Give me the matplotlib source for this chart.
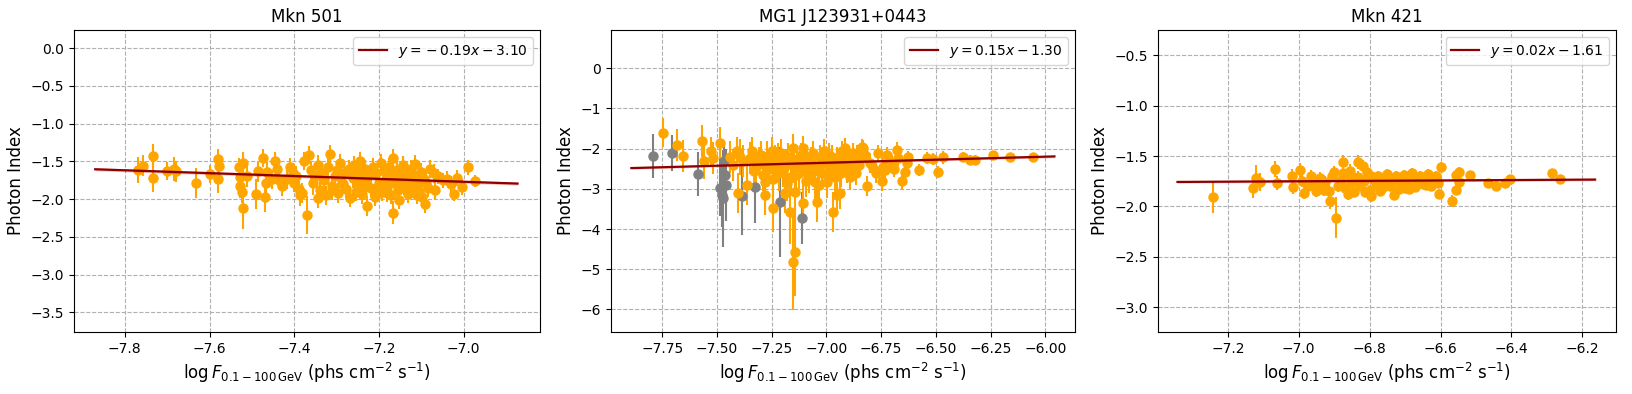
import numpy as np
import matplotlib
matplotlib.use("Agg")
import matplotlib.pyplot as plt

# ---------------- data ----------------
titles = ["Mkn 501", "MG1 J123931+0443", "Mkn 421"]
slopes = [-0.19, 0.15, 0.02]
intercepts = [-3.10, -1.30, -1.61]
xlims = [(-7.92, -6.82), (-7.984, -5.864), (-7.397, -6.105)]
ylims = [(-3.76, 0.24), (-6.56, 0.95), (-3.245, -0.25)]
band_half = [0.02, 0.03, 0.012]

# Mkn 501 (x, index, err)
mkn501_x = [-7.770, -7.756, -7.734, -7.734, -7.700, -7.685, -7.680, -7.633, -7.600, -7.580,
            -7.577, -7.581, -7.531, -7.520, -7.528, -7.529, -7.524, -7.521, -7.512, -7.490,
            -7.486, -7.474, -7.469, -7.466, -7.465, -7.453, -7.445, -7.441, -7.437, -7.418,
            -7.410, -7.404, -7.390, -7.386, -7.378, -7.370, -7.366, -7.360, -7.355, -7.350,
            -7.345, -7.340, -7.335, -7.330, -7.325, -7.320, -7.315, -7.310, -7.305, -7.300,
            -7.298, -7.292, -7.288, -7.282, -7.278, -7.272, -7.268, -7.262, -7.258, -7.252,
            -7.248, -7.244, -7.240, -7.236, -7.232, -7.229, -7.225, -7.220, -7.215, -7.210,
            -7.206, -7.200, -7.196, -7.192, -7.188, -7.184, -7.180, -7.176, -7.172, -7.168,
            -7.166, -7.166, -7.162, -7.158, -7.155, -7.152, -7.148, -7.144, -7.140, -7.136,
            -7.132, -7.128, -7.124, -7.120, -7.116, -7.114, -7.110, -7.106, -7.102, -7.099,
            -7.095, -7.091, -7.085, -7.080, -7.071, -7.067, -7.060, -7.050, -7.040, -7.030,
            -7.022, -7.015, -7.003, -6.989, -6.973, -7.430, -7.400, -7.395, -7.382, -7.310,
            -7.285, -7.255, -7.230, -7.205, -7.180, -7.150, -7.130, -7.105, -7.090, -7.345]
mkn501_y = [-1.61, -1.56, -1.43, -1.72, -1.63, -1.60, -1.63, -1.79, -1.67, -1.47,
            -1.56, -1.74, -1.57, -1.52, -1.71, -1.83, -1.90, -2.12, -1.70, -1.93,
            -1.63, -1.46, -1.97, -1.79, -1.64, -1.74, -1.50, -1.60, -1.75, -1.73,
            -1.58, -1.66, -1.86, -1.95, -1.49, -2.21, -1.42, -1.62, -1.79, -1.70,
            -1.55, -1.88, -1.66, -1.75, -1.95, -1.58, -1.40, -1.83, -1.70, -1.62,
            -1.92, -1.52, -1.78, -1.66, -1.87, -1.60, -1.98, -1.72, -1.55, -1.83,
            -1.65, -1.50, -1.93, -1.76, -1.60, -2.09, -1.70, -1.85, -1.57, -1.97,
            -1.66, -1.78, -1.52, -1.90, -1.63, -1.74, -1.84, -1.58, -1.95, -1.68,
            -1.46, -2.18, -1.79, -1.62, -1.88, -2.01, -1.72, -1.55, -1.83, -1.66,
            -1.93, -1.76, -1.60, -1.86, -1.70, -1.54, -1.95, -1.79, -1.64, -1.97,
            -1.73, -2.07, -1.85, -1.60, -1.66, -1.88, -1.70, -1.75, -1.73, -1.80,
            -1.93, -1.72, -1.84, -1.58, -1.76, -1.82, -1.78, -1.70, -1.92, -1.88,
            -1.80, -1.90, -1.82, -1.89, -1.92, -1.81, -1.86, -1.90, -1.78, -1.98]
mkn501_e = [0.17, 0.14, 0.16, 0.18, 0.12, 0.16, 0.14, 0.20, 0.12, 0.13,
            0.15, 0.18, 0.12, 0.15, 0.13, 0.15, 0.15, 0.28, 0.14, 0.20,
            0.14, 0.12, 0.20, 0.14, 0.13, 0.12, 0.12, 0.13, 0.12, 0.13,
            0.12, 0.14, 0.15, 0.14, 0.12, 0.25, 0.12, 0.13, 0.15, 0.12,
            0.13, 0.15, 0.12, 0.14, 0.13, 0.12, 0.12, 0.14, 0.13, 0.12,
            0.13, 0.12, 0.13, 0.12, 0.12, 0.12, 0.12, 0.13, 0.12, 0.12,
            0.12, 0.12, 0.13, 0.12, 0.12, 0.13, 0.12, 0.12, 0.12, 0.12,
            0.12, 0.12, 0.12, 0.12, 0.12, 0.12, 0.12, 0.12, 0.12, 0.12,
            0.12, 0.15, 0.12, 0.12, 0.12, 0.12, 0.12, 0.12, 0.12, 0.12,
            0.12, 0.12, 0.12, 0.12, 0.12, 0.12, 0.12, 0.12, 0.12, 0.12,
            0.12, 0.12, 0.12, 0.12, 0.12, 0.12, 0.10, 0.10, 0.10, 0.10,
            0.10, 0.10, 0.10, 0.10, 0.08, 0.14, 0.13, 0.14, 0.13, 0.13,
            0.12, 0.12, 0.12, 0.12, 0.12, 0.12, 0.12, 0.12, 0.12, 0.14]

# MG1 J123931+0443 (orange)
mg1_x = [-7.748, -7.681, -7.654, -7.567, -7.560, -7.529, -7.517, -7.486, -7.440, -7.426,
         -7.410, -7.395, -7.403, -7.380, -7.364, -7.349, -7.340, -7.320, -7.300, -7.281,
         -7.281, -7.273, -7.260, -7.250, -7.243, -7.235, -7.227, -7.215, -7.205, -7.190,
         -7.185, -7.175, -7.167, -7.160, -7.154, -7.152, -7.148, -7.144, -7.144, -7.135,
         -7.125, -7.115, -7.106, -7.106, -7.098, -7.090, -7.080, -7.070, -7.060, -7.052,
         -7.045, -7.040, -7.030, -7.020, -7.010, -7.000, -6.999, -6.990, -6.980, -6.969,
         -6.961, -6.953, -6.950, -6.938, -6.930, -6.915, -6.910, -6.900, -6.893, -6.880,
         -6.870, -6.860, -6.850, -6.839, -6.832, -6.824, -6.813, -6.786, -6.763, -6.748,
         -6.733, -6.725, -6.676, -6.672, -6.656, -6.641, -6.633, -6.626, -6.576, -6.542,
         -6.512, -6.489, -6.469, -6.378, -6.344, -6.321, -6.238, -6.162, -6.058,
         -7.330, -7.310, -7.290, -7.265, -7.245, -7.222, -7.198, -7.178, -7.158, -7.138,
         -7.118, -7.095, -7.075, -7.055, -7.035, -7.015, -6.995, -6.975, -6.955, -6.935,
         -6.920, -6.905, -6.885, -6.865, -6.845, -6.800, -6.775, -6.740, -6.700, -6.690]
mg1_y = [-1.60, -1.91, -2.18, -1.81, -2.30, -2.07, -2.24, -1.87, -2.20, -2.41,
         -2.05, -2.20, -3.11, -2.30, -2.90, -2.24, -2.05, -2.45, -2.15, -2.82,
         -3.15, -2.20, -2.50, -2.05, -3.48, -2.30, -2.36, -2.60, -2.10, -3.11,
         -2.40, -2.20, -3.57, -2.70, -4.81, -1.99, -2.45, -4.56, -3.07, -2.25,
         -2.60, -2.35, -1.99, -3.36, -2.50, -2.20, -2.70, -2.30, -2.10, -2.82,
         -3.32, -2.45, -2.20, -2.60, -2.05, -2.35, -2.82, -2.15, -2.50, -3.57,
         -2.70, -3.15, -2.25, -3.11, -2.05, -1.99, -2.40, -2.20, -2.70, -2.10,
         -2.30, -2.15, -2.40, -1.97, -1.99, -2.16, -2.93, -2.49, -2.11, -2.80,
         -2.53, -2.17, -2.03, -2.24, -2.80, -2.57, -2.36, -2.20, -2.53, -2.24,
         -2.26, -2.59, -2.22, -2.20, -2.28, -2.28, -2.17, -2.22, -2.20,
         -2.55, -2.30, -2.65, -2.40, -2.75, -2.15, -2.55, -2.85, -2.30, -2.65,
         -2.15, -2.80, -2.40, -2.55, -2.90, -2.35, -2.60, -2.20, -2.45, -2.60,
         -2.30, -2.55, -2.45, -2.60, -2.25, -2.35, -2.60, -2.45, -2.35, -2.50]
mg1_e = [0.35, 0.40, 0.40, 0.40, 0.45, 0.35, 0.40, 0.40, 0.40, 0.40,
         0.35, 0.45, 0.50, 0.40, 0.50, 0.40, 0.35, 0.40, 0.35, 0.50,
         0.50, 0.40, 0.40, 0.35, 0.60, 0.40, 0.40, 0.45, 0.35, 0.50,
         0.40, 0.35, 0.80, 0.45, 1.20, 0.35, 0.40, 1.10, 0.50, 0.35,
         0.40, 0.35, 0.30, 0.50, 0.40, 0.30, 0.40, 0.35, 0.30, 0.45,
         0.50, 0.35, 0.30, 0.35, 0.30, 0.30, 0.40, 0.30, 0.30, 0.50,
         0.35, 0.45, 0.30, 0.40, 0.25, 0.25, 0.30, 0.25, 0.30, 0.25,
         0.25, 0.25, 0.25, 0.20, 0.20, 0.20, 0.25, 0.20, 0.20, 0.25,
         0.20, 0.20, 0.20, 0.20, 0.20, 0.20, 0.20, 0.15, 0.15, 0.15,
         0.15, 0.15, 0.15, 0.12, 0.12, 0.12, 0.12, 0.10, 0.10,
         0.40, 0.35, 0.40, 0.35, 0.45, 0.30, 0.40, 0.45, 0.35, 0.40,
         0.30, 0.40, 0.35, 0.35, 0.40, 0.30, 0.35, 0.30, 0.30, 0.35,
         0.30, 0.30, 0.30, 0.30, 0.25, 0.25, 0.25, 0.25, 0.20, 0.20]

# MG1 J123931+0443 (grey points)
mg1_grey_x = [-7.791, -7.707, -7.586, -7.486, -7.479, -7.471, -7.464, -7.468, -7.460,
              -7.387, -7.326, -7.212, -7.110]
mg1_grey_y = [-2.18, -2.10, -2.63, -2.97, -3.15, -3.24, -2.65, -2.32, -2.90,
              -3.19, -2.95, -3.33, -3.73]
mg1_grey_e = [0.54, 0.45, 0.55, 0.70, 0.80, 1.20, 0.60, 0.50, 0.90,
              0.95, 0.90, 1.37, 0.64]

# Mkn 421
mkn421_x = [-7.242, -7.130, -7.121, -7.109, -7.066, -7.062, -7.018, -7.016, -6.996, -6.984,
            -6.944, -6.914, -6.912, -6.895, -6.876, -6.876, -6.834, -6.820, -6.796, -6.730,
            -6.603, -6.598, -6.567, -6.556, -6.555, -6.547, -6.547, -6.516, -6.467, -6.443,
            -6.417, -6.405, -6.286, -6.264,
            -6.990, -6.975, -6.965, -6.955, -6.940, -6.930, -6.925, -6.905, -6.890, -6.880,
            -6.870, -6.860, -6.852, -6.845, -6.838, -6.828, -6.815, -6.808, -6.800, -6.790,
            -6.782, -6.775, -6.765, -6.758, -6.750, -6.742, -6.735, -6.725, -6.718, -6.710,
            -6.702, -6.695, -6.688, -6.680, -6.672, -6.665, -6.658, -6.650, -6.642, -6.635,
            -6.628, -6.620, -6.612, -6.606, -6.950, -6.900, -6.862, -6.832, -6.812, -6.770,
            -6.745, -6.715, -6.690, -6.662, -6.640, -6.618, -6.856, -6.796, -6.752, -6.700]
mkn421_y = [-1.91, -1.82, -1.72, -1.76, -1.63, -1.77, -1.70, -1.81, -1.64, -1.87,
            -1.82, -1.85, -1.95, -2.11, -1.56, -1.67, -1.56, -1.60, -1.90, -1.89,
            -1.88, -1.61, -1.95, -1.69, -1.84, -1.66, -1.76, -1.69, -1.77, -1.80,
            -1.77, -1.73, -1.67, -1.73,
            -1.75, -1.80, -1.70, -1.78, -1.72, -1.84, -1.76, -1.70, -1.80, -1.74,
            -1.82, -1.68, -1.77, -1.86, -1.72, -1.80, -1.75, -1.66, -1.84, -1.73,
            -1.78, -1.70, -1.82, -1.76, -1.68, -1.80, -1.74, -1.70, -1.83, -1.76,
            -1.69, -1.79, -1.72, -1.67, -1.81, -1.75, -1.70, -1.78, -1.72, -1.68,
            -1.80, -1.74, -1.70, -1.77, -1.85, -1.66, -1.88, -1.71, -1.86, -1.85,
            -1.74, -1.81, -1.83, -1.72, -1.79, -1.73, -1.65, -1.70, -1.77, -1.82]
mkn421_e = [0.15, 0.10, 0.13, 0.09, 0.08, 0.07, 0.07, 0.07, 0.07, 0.06,
            0.06, 0.06, 0.08, 0.20, 0.07, 0.07, 0.07, 0.06, 0.06, 0.05,
            0.05, 0.05, 0.06, 0.05, 0.05, 0.05, 0.05, 0.04, 0.04, 0.04,
            0.04, 0.04, 0.04, 0.04,
            0.06, 0.06, 0.06, 0.06, 0.06, 0.06, 0.06, 0.06, 0.06, 0.06,
            0.06, 0.06, 0.05, 0.05, 0.05, 0.05, 0.05, 0.05, 0.05, 0.05,
            0.05, 0.05, 0.05, 0.05, 0.05, 0.05, 0.05, 0.05, 0.05, 0.05,
            0.05, 0.05, 0.05, 0.05, 0.05, 0.05, 0.05, 0.05, 0.05, 0.05,
            0.05, 0.05, 0.05, 0.05, 0.06, 0.06, 0.06, 0.06, 0.05, 0.05,
            0.05, 0.05, 0.05, 0.05, 0.05, 0.05, 0.07, 0.06, 0.05, 0.05]

# ---------------- plotting ----------------
W, H = 1633, 394
fig = plt.figure(figsize=(W / 100, H / 100), dpi=100)
axes_px = [(74, 540), (611, 1075), (1158, 1616)]
top_px, bot_px = 30, 332

panels = [
    (mkn501_x, mkn501_y, mkn501_e, None),
    (mg1_x, mg1_y, mg1_e, (mg1_grey_x, mg1_grey_y, mg1_grey_e)),
    (mkn421_x, mkn421_y, mkn421_e, None),
]


def fit_label(a, b):
    if a < 0:
        s = r'$y = \,{-}\,%.2fx' % abs(a)
    else:
        s = r'$y = %.2fx' % a
    s += (r' - %.2f$' % abs(b)) if b < 0 else (r' + %.2f$' % b)
    return s


for i, (x, y, e, grey) in enumerate(panels):
    l, r = axes_px[i]
    ax = fig.add_axes([l / W, 1 - bot_px / H, (r - l) / W, (bot_px - top_px) / H])
    ax.grid(True, linestyle='--', color='#b0b0b0', linewidth=0.8, zorder=0)
    ax.set_axisbelow(True)
    if grey is not None:
        ax.errorbar(grey[0], grey[1], yerr=grey[2], fmt='o', color='grey',
                    ms=6.5, elinewidth=1.5, capsize=0, zorder=2)
    ax.errorbar(x, y, yerr=e, fmt='o', color='orange', ms=6.5,
                elinewidth=1.5, capsize=0, zorder=2)
    xs_all = list(x) + (list(grey[0]) if grey is not None else [])
    xl = np.linspace(min(xs_all) - 0.1, max(xs_all) + 0.1, 100)
    yl = slopes[i] * xl + intercepts[i]
    ax.fill_between(xl, yl - band_half[i], yl + band_half[i], color='red',
                    alpha=0.25, linewidth=0, zorder=3)
    ax.plot(xl, yl, color='darkred', linewidth=1.6,
            label=fit_label(slopes[i], intercepts[i]), zorder=4)
    ax.set_xlim(*xlims[i])
    ax.set_ylim(*ylims[i])
    ax.set_title(titles[i], fontsize=12)
    ax.set_ylabel('Photon Index', fontsize=12)
    ax.set_xlabel(r'$\log F_{0.1-100\,\mathrm{GeV}}$ (phs cm$^{-2}$ s$^{-1}$)', fontsize=12)
    ax.legend(loc='upper right', fontsize=10)

fig.savefig('out.png', dpi=100)
